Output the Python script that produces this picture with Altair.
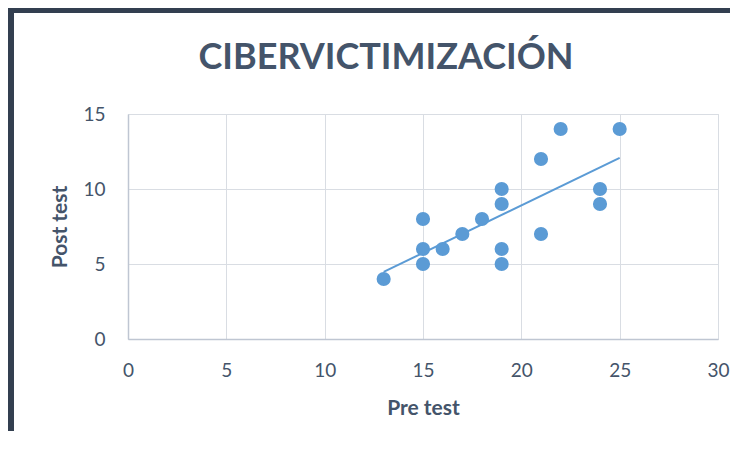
import altair as alt
import pandas as pd

# Data
chart_title = ["CIBERVICTIMIZACIÓN"]
pre_test = [13, 15, 15, 15, 16, 17, 18, 19, 19, 19, 19, 21, 21, 22, 24, 24, 25]
post_test = [4, 8, 6, 5, 6, 7, 8, 10, 9, 6, 5, 12, 7, 14, 10, 9, 14]
x_ticks = [0, 5, 10, 15, 20, 25, 30]
y_ticks = [0, 5, 10, 15]

df = pd.DataFrame({"pre": pre_test, "post": post_test})

FONT = "Lato"
SLATE = "#44546A"
BLUE = "#5B9BD5"
FRAME = "#333F50"
GRID = "#D9DDE3"
DOMAIN = "#BFC6D2"

x_enc = alt.X(
    "pre:Q",
    scale=alt.Scale(domain=[0, 30], nice=False, zero=True),
    axis=alt.Axis(
        values=x_ticks, title="Pre test", ticks=False, tickSize=0, labelFlush=False,
        labelPadding=22, labelFontSize=19, labelFont=FONT, labelColor=SLATE,
        titleFontSize=21, titleFont=FONT, titleFontWeight="bold", titleColor=SLATE,
        titleX=295, titleY=69, titleBaseline="middle",
        grid=True, gridColor=GRID, domainColor=DOMAIN, domainWidth=1.5,
    ),
)
y_enc = alt.Y(
    "post:Q",
    scale=alt.Scale(domain=[0, 15], nice=False, zero=True),
    axis=alt.Axis(
        values=y_ticks, title="Post test", ticks=False, tickSize=0, labelFlush=False,
        labelPadding=23, labelFontSize=19, labelFont=FONT, labelColor=SLATE,
        titleFontSize=21, titleFont=FONT, titleFontWeight="bold", titleColor=SLATE,
        titleX=-68, titleY=112.5, titleBaseline="middle", titleAngle=-90,
        grid=True, gridColor=GRID, domainColor=DOMAIN, domainWidth=1.5,
    ),
)

base = alt.Chart(df)

points = base.mark_circle(size=200, color=BLUE, opacity=1).encode(x=x_enc, y=y_enc)

trend = (
    base.transform_regression("pre", "post", extent=[13, 25])
    .mark_line(color=BLUE, strokeWidth=2)
    .encode(x="pre:Q", y="post:Q")
)

title_df = pd.DataFrame({"t": chart_title})
title_text = alt.Chart(title_df).mark_text(
    font=FONT, fontSize=36, fontWeight="bold", color=SLATE,
    align="center", baseline="alphabetic",
).encode(text="t:N", x=alt.value(258), y=alt.value(-45))

frame_df = pd.DataFrame({"k": [0]})
left_line = alt.Chart(frame_df).mark_rule(color=FRAME, strokeWidth=6, strokeCap="butt").encode(
    x=alt.value(-117), y=alt.value(-107), y2=alt.value(340)
)
top_line = alt.Chart(frame_df).mark_rule(color=FRAME, strokeWidth=6, strokeCap="butt").encode(
    x=alt.value(-120), x2=alt.value(610), y=alt.value(-104)
)

chart = (
    alt.layer(trend, points, title_text, left_line, top_line)
    .properties(
        width=590,
        height=225,
        autosize=alt.AutoSizeParams(type="none"),
        padding={"left": 120, "top": 106, "right": 12, "bottom": 92},
    )
    .configure_view(stroke="transparent")
    .configure(background="white")
)

chart.save("out.html", embed_options={"renderer": "svg", "actions": False})
